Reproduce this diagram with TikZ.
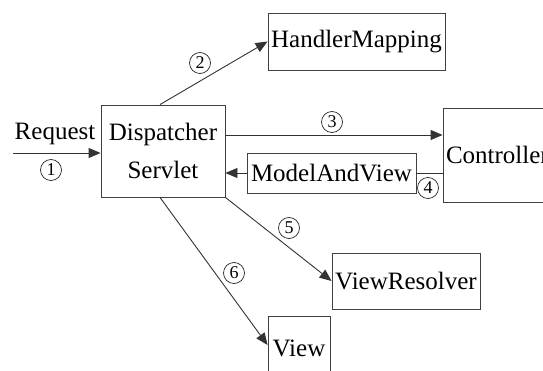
\documentclass[tikz,border=0pt]{standalone}
\usepackage{fontspec}
\setmainfont{Liberation Serif}
\usetikzlibrary{arrows.meta}
\tikzset{
	box/.style={draw=black!75,line width=.9pt,rectangle,inner sep=0pt,font=\fontsize{25}{38}\selectfont},
	flow/.style={draw=black!80,line width=.9pt,-{Triangle[length=12pt,width=10pt]}},
	num/.style={draw=black!85,line width=.7pt,circle,minimum size=21pt,inner sep=0pt,font=\fontsize{18}{18}\selectfont}
}
\begin{document}
	\begin{tikzpicture}[x=1pt,y=1pt]
		\useasboundingbox (0,0) rectangle (543,370);
		\node[box,minimum width=124pt,minimum height=92pt,align=center] (disp) at (163,219) {Dispatcher\\Servlet};
		\node[box,minimum width=177pt,minimum height=57pt] (hm) at (356.5,328.5) {HandlerMapping};
		\node[box,text width=114pt,inner xsep=3pt,minimum height=94pt,align=left] (ctrl) at (503,215) {Controller};
		\node[box,minimum width=169pt,minimum height=40pt] (mav) at (331.5,197) {ModelAndView};
		\node[box,minimum width=148pt,minimum height=56pt] (vr) at (406,89) {ViewResolver};
		\node[box,minimum width=62pt,minimum height=64pt] (view) at (299,22) {View};
		\coordinate (req) at (13,217);
		% arrows
		\draw[flow] (req) -- (req -| disp.west);
		\draw[flow] ([xshift=-3pt]disp.north) -- (hm.west);
		\draw[flow] ([yshift=16pt]disp.east) -- ([yshift=16pt]disp.east -| ctrl.west);
		\draw[draw=black!80,line width=.9pt] (ctrl.west |- mav.east) -- (mav.east);
		\draw[flow] (mav.west) -- (mav.west -| disp.east);
		\draw[flow] (disp.south east) -- (vr.west);
		\draw[flow] ([xshift=-3pt]disp.south) -- ([yshift=3pt]view.west);
		% labels
		\node[font=\fontsize{25}{25}\selectfont,anchor=base] (reqlbl) at (55,230) {Request};
		\node[num] (n1) at (51,200) {1};
		\node[num] (n2) at (200,307) {2};
		\node[num] (n3) at (332,248) {3};
		\node[num] (n4) at (428,182) {4};
		\node[num] (n5) at (289,142) {5};
		\node[num] (n6) at (234,97) {6};
	\end{tikzpicture}
\end{document}
